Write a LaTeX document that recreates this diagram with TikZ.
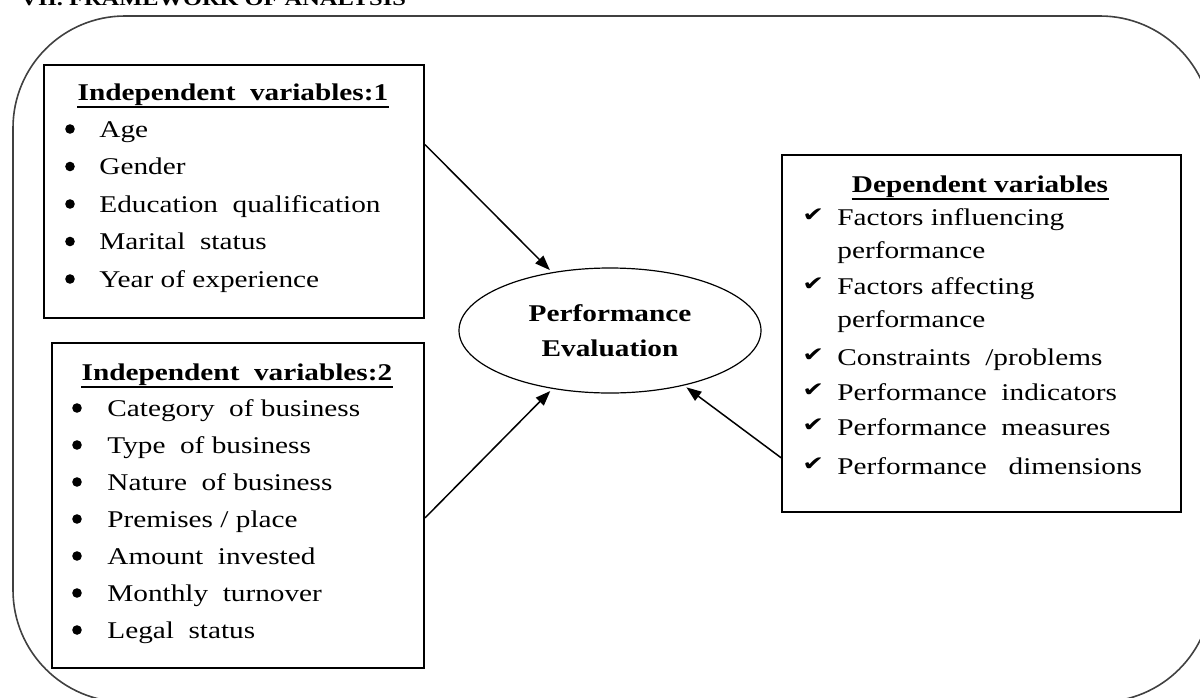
\documentclass[tikz,border=0pt]{standalone}
\usepackage{fontspec}
\setmainfont{Liberation Serif}[FakeStretch=1.22]
\newfontfamily\symfont{DejaVu Sans}[FakeStretch=1.3]
\usetikzlibrary{shapes.geometric,arrows.meta,fit,calc}
\newcommand\wsp{\hspace{0.3em}}
\begin{document}
\begin{tikzpicture}[x=0.5pt,y=-0.5pt,
  box/.style={draw=black,line width=1pt,inner sep=0pt},
  txt/.style={anchor=base west,inner sep=0pt,font=\fontsize{12}{14}\selectfont},
  hd/.style={anchor=base,inner sep=0pt,font=\fontsize{12}{14}\selectfont\bfseries},
  ul/.style={line width=1.1pt},
  arr/.style={line width=0.75pt,shorten >=1.5pt,-{Triangle[length=7.5pt,width=5.5pt]}},
  blt/.style={circle,fill=black,inner sep=0pt,minimum size=4.8pt},
  chk/.style={anchor=base west,inner sep=0pt,font=\symfont\fontsize{10}{11}\selectfont}]

\useasboundingbox (0,0) rectangle (1200,697);

% title (cut off at top)
\node[anchor=base west,inner sep=0pt,font=\fontsize{10}{12}\selectfont\bfseries] (title) at (20,5) {VII. FRAMEWORK OF ANALYSIS};

% outer frame
\draw[line width=0.8pt,draw=black!75,rounded corners=56pt] (13,16) rectangle (1212,702);

% boxes
\node[box,fit={(44,65) (424,318)}] (b1) {};
\node[box,fit={(52,343) (424,668)}] (b2) {};
\node[box,fit={(782,155) (1181,512)}] (b3) {};

% ellipse
\node[ellipse,draw,line width=0.6pt,minimum width=151pt,minimum height=62.5pt,inner sep=0pt,
      align=center,font=\fontsize{12}{17.5}\selectfont\bfseries] (pe) at (610,330.5) {Performance\\Evaluation};

% box 1
\node[hd] (h1) at (233,100) {Independent\wsp\ variables:1};
\draw[ul] ([yshift=-0.9pt]h1.south west) -- ([yshift=-0.9pt]h1.south east);
\foreach \t [count=\i] in {Age,Gender,Education\wsp\ qualification,Marital\wsp\ status,Year of experience}{
  \pgfmathsetmacro\yy{137+(\i-1)*37.5}
  \node[blt] (b1d\i) at (70,\yy-8) {};
  \node[txt] (b1t\i) at (99,\yy) {\t};
}

% box 2
\node[hd] (h2) at (237,380) {Independent\wsp\ variables:2};
\draw[ul] ([yshift=-0.9pt]h2.south west) -- ([yshift=-0.9pt]h2.south east);
\foreach \t [count=\i] in {Category\wsp\ of business,Type\wsp\ of business,Nature\wsp\ of business,Premises / place,Amount\wsp\ invested,Monthly\wsp\ turnover,Legal\wsp\ status}{
  \pgfmathsetmacro\yy{416+(\i-1)*37}
  \node[blt] (b2d\i) at (77,\yy-8) {};
  \node[txt] (b2t\i) at (107,\yy) {\t};
}

% box 3
\node[hd] (h3) at (980,192) {Dependent variables};
\draw[ul] ([yshift=-0.9pt]h3.south west) -- ([yshift=-0.9pt]h3.south east);
\node[chk] (c1) at (802,221) {✔};
\node[txt] (t1) at (837,225) {Factors influencing};
\node[txt] (t2) at (837,258) {performance};
\node[chk] (c2) at (802,290) {✔};
\node[txt] (t3) at (837,294) {Factors affecting};
\node[txt] (t4) at (837,327) {performance};
\node[chk] (c3) at (802,361) {✔};
\node[txt] (t5) at (837,365) {Constraints\wsp\ /problems};
\node[chk] (c4) at (802,396) {✔};
\node[txt] (t6) at (837,400) {Performance\wsp\ indicators};
\node[chk] (c5) at (802,431) {✔};
\node[txt] (t7) at (837,435) {Performance\wsp\ measures};
\node[chk] (c6) at (802,470) {✔};
\node[txt] (t8) at (837,474) {Performance\wsp\wsp\ dimensions};

% connectors
\draw[arr] ($(b1.north east)!0.316!(b1.south east)$) -- (pe);
\draw[arr] ($(b2.north east)!0.538!(b2.south east)$) -- (pe);
\draw[arr] ($(b3.north west)!0.846!(b3.south west)$) -- (pe);
\end{tikzpicture}
\end{document}
